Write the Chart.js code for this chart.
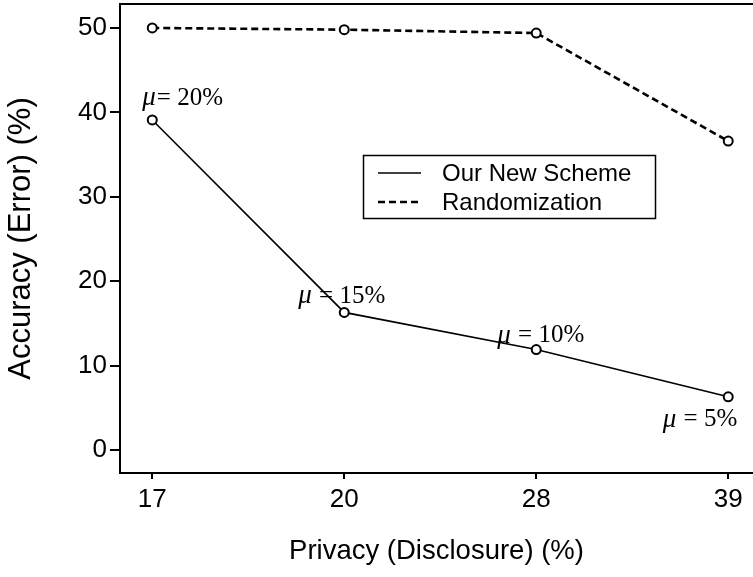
<!DOCTYPE html>
<html><head><meta charset="utf-8">
<script src="https://cdn.jsdelivr.net/npm/chart.js@4.4.1/dist/chart.umd.min.js"></script>
<style>html,body{margin:0;padding:0;background:#fff;overflow:hidden}#wrap{width:753px;height:577px;position:relative}</style>
</head><body><div id="wrap"><canvas id="c" width="753" height="577"></canvas></div>
<script>
const categories = ['17', '20', '28', '39'];
const ourScheme = [39.1, 16.3, 11.9, 6.3];
const randomization = [50.0, 49.8, 49.4, 36.6];
const muLabels = ['μ= 20%', 'μ = 15%', 'μ = 10%', 'μ = 5%'];
const yTicks = [0, 10, 20, 30, 40, 50];
const seriesNames = ['Our New Scheme', 'Randomization'];
const xTitle = 'Privacy (Disclosure) (%)';
const yTitle = 'Accuracy (Error) (%)';

const SANS = '"Liberation Sans", Arial, sans-serif';
const SERIF = '"Liberation Serif", "Times New Roman", serif';
const X_MIN = -0.168, X_MAX = 3.129;
const Y_MIN = -2.73, Y_MAX = 52.84;

// label offsets relative to point pixel [dx, dy, align]
const muOffsets = [[-10, -22, 'left'], [-46, -16, 'left'], [-39, -14, 'left'], [8, 23, 'right']];

const annotPlugin = {
  id: 'annot',
  afterDatasetsDraw(chart) {
    const ctx = chart.ctx;
    const meta = chart.getDatasetMeta(0);
    ctx.save();
    ctx.fillStyle = '#000';
    ctx.textBaseline = 'middle';
    meta.data.forEach((pt, i) => {
      const lab = muLabels[i];
      const mu = lab.charAt(0);
      const rest = lab.slice(1);
      const [dx, dy, al] = muOffsets[i];
      ctx.font = 'italic 27px ' + SERIF;
      const w1 = ctx.measureText(mu).width;
      ctx.font = '25px ' + SERIF;
      const w2 = ctx.measureText(rest).width;
      let x = pt.x + dx;
      if (al === 'right') x -= (w1 + w2);
      const y = pt.y + dy;
      ctx.textAlign = 'left';
      ctx.font = 'italic 27px ' + SERIF;
      ctx.fillText(mu, x, y);
      ctx.font = '25px ' + SERIF;
      ctx.fillText(rest, x + w1 + 1, y);
    });
    ctx.restore();
  }
};

const legendPlugin = {
  id: 'boxLegend',
  afterDraw(chart) {
    const ctx = chart.ctx;
    ctx.save();
    ctx.strokeStyle = '#000';
    ctx.lineWidth = 1.5;
    ctx.strokeRect(363.5, 155.5, 292, 63);
    const rows = [173, 202];
    chart.data.datasets.forEach((ds, i) => {
      const y = rows[i];
      ctx.beginPath();
      ctx.lineWidth = ds.borderWidth;
      ctx.setLineDash(ds.borderDash || []);
      ctx.moveTo(378, y);
      ctx.lineTo(421, y);
      ctx.stroke();
      ctx.setLineDash([]);
      ctx.fillStyle = '#000';
      ctx.font = '24px ' + SANS;
      ctx.textBaseline = 'middle';
      ctx.textAlign = 'left';
      ctx.fillText(ds.label, 442, y + 1);
    });
    ctx.restore();
  }
};

new Chart(document.getElementById('c'), {
  type: 'line',
  data: {
    datasets: [
      {
        label: seriesNames[0],
        data: ourScheme.map((v, i) => ({x: i, y: v})),
        borderColor: '#000', borderWidth: 1.6, tension: 0,
        pointRadius: 4.5, pointBorderWidth: 2, pointBackgroundColor: '#fff', pointBorderColor: '#000'
      },
      {
        label: seriesNames[1],
        data: randomization.map((v, i) => ({x: i, y: v})),
        borderColor: '#000', borderWidth: 2.6, borderDash: [7, 4], tension: 0,
        pointRadius: 4.5, pointBorderWidth: 2, pointBackgroundColor: '#fff', pointBorderColor: '#000'
      }
    ]
  },
  options: {
    responsive: false,
    animation: false,
    devicePixelRatio: 1,
    layout: {autoPadding: false, padding: {top: 4, right: 0, bottom: 0, left: 0}},
    plugins: {legend: {display: false}, tooltip: {enabled: false}},
    scales: {
      x: {
        type: 'linear', position: 'bottom', min: X_MIN, max: X_MAX,
        afterBuildTicks: (s) => { s.ticks = categories.map((c, i) => ({value: i})); },
        afterFit: (s) => { s.height = 104; s.paddingLeft = 0; s.paddingRight = 0; },
        ticks: {
          callback: (v) => categories[v], color: '#000', padding: 5,
          font: {family: SANS, size: 26}, maxRotation: 0, autoSkip: false
        },
        grid: {drawOnChartArea: false, drawTicks: true, tickLength: 6, color: '#000', lineWidth: 2},
        border: {display: true, color: '#000', width: 2},
        title: {display: true, text: xTitle, color: '#000', font: {family: SANS, size: 27.5}, padding: {top: 0, bottom: 9}}
      },
      xTop: {
        type: 'linear', position: 'top', min: X_MIN, max: X_MAX,
        afterFit: (s) => { s.height = 0; s.paddingLeft = 0; s.paddingRight = 0; },
        ticks: {display: false},
        grid: {drawOnChartArea: false, drawTicks: false},
        border: {display: true, color: '#000', width: 2}
      },
      y: {
        type: 'linear', position: 'left', min: Y_MIN, max: Y_MAX,
        afterBuildTicks: (s) => { s.ticks = yTicks.map(v => ({value: v})); },
        afterFit: (s) => { s.width = 120; s.paddingTop = 0; s.paddingBottom = 0; },
        ticks: {color: '#000', padding: 3, font: {family: SANS, size: 26}},
        grid: {drawOnChartArea: false, drawTicks: true, tickLength: 10, color: '#000', lineWidth: 2},
        border: {display: true, color: '#000', width: 2},
        title: {display: true, text: yTitle, color: '#000', font: {family: SANS, size: 31}, padding: {top: 3, bottom: 0}}
      }
    }
  },
  plugins: [annotPlugin, legendPlugin]
});
</script>
</body></html>
